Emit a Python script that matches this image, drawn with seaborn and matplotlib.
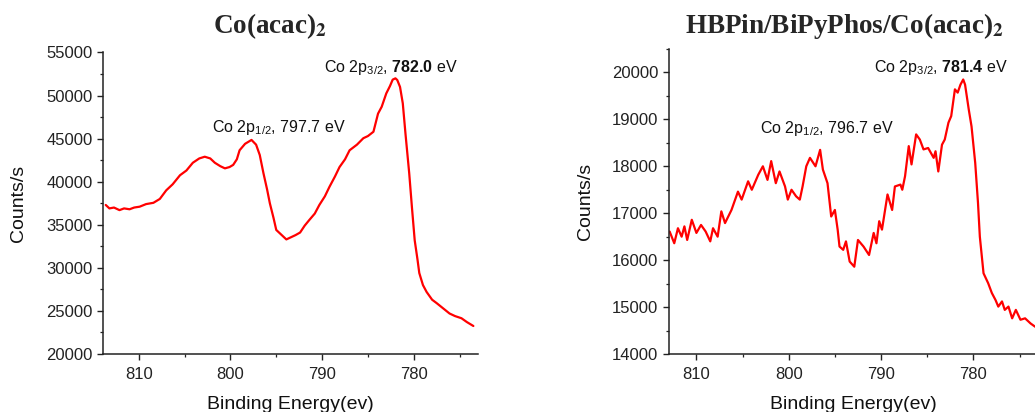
import numpy as np
import pandas as pd
import matplotlib
matplotlib.use('Agg')
import matplotlib.pyplot as plt
from matplotlib.ticker import MultipleLocator
import seaborn as sns

# Co(acac)2 - Co 2p spectrum
be_left = [813.6, 813.2, 812.7, 812.1, 811.6, 811.0, 810.5, 809.9, 809.2, 808.4,
           807.7, 807.0, 806.3, 805.5, 804.8, 804.1, 803.4, 802.8, 802.2, 801.7,
           801.1, 800.6, 800.1, 799.7, 799.3, 799.0, 798.4, 797.7, 797.2, 796.8,
           796.4, 796.0, 795.7, 795.3, 795.0, 794.4, 793.9, 793.3, 792.9, 792.4,
           791.9, 791.4, 790.8, 790.3, 789.7, 789.2, 788.6, 788.1, 787.5, 787.0,
           786.2, 785.5, 785.0, 784.4, 783.9, 783.5, 783.0, 782.6, 782.3, 782.0,
           781.8, 781.5, 781.2, 780.9, 780.5, 780.2, 779.9, 779.6, 779.4, 779.0,
           778.6, 778.0, 777.5, 776.8, 776.1, 775.5, 774.8, 774.2, 773.5]
cps_left = [37300, 36900, 37000, 36700, 36900, 36800, 37000, 37100, 37400, 37550,
            38000, 39000, 39700, 40750, 41300, 42200, 42700, 42900, 42700, 42200,
            41800, 41550, 41700, 41950, 42600, 43650, 44400, 44850, 44300, 43100,
            41000, 39100, 37500, 35800, 34400, 33800, 33300, 33600, 33800, 34100,
            34900, 35550, 36300, 37300, 38300, 39400, 40600, 41700, 42600, 43650,
            44300, 45050, 45300, 45800, 47900, 48700, 50250, 51100, 51850, 52000,
            51800, 51000, 49100, 45500, 41000, 37000, 33200, 31000, 29400, 28000,
            27200, 26300, 25900, 25300, 24700, 24400, 24150, 23700, 23250]

# HBPin/BiPyPhos/Co(acac)2 - Co 2p spectrum
be_right = [812.9, 812.4, 812.0, 811.6, 811.3, 811.0, 810.5, 810.0, 809.5, 809.0,
            808.5, 808.2, 807.7, 807.3, 806.9, 806.2, 805.5, 805.1, 804.4, 804.0,
            803.3, 802.8, 802.3, 801.9, 801.4, 801.0, 800.4, 800.1, 799.7, 799.2,
            798.8, 798.5, 798.1, 797.7, 797.1, 796.6, 796.3, 795.8, 795.4, 795.0,
            794.7, 794.5, 794.1, 793.8, 793.4, 792.9, 792.5, 791.9, 791.3, 790.8,
            790.5, 790.2, 789.9, 789.3, 788.8, 788.5, 787.9, 787.7, 787.4, 787.0,
            786.7, 786.2, 785.8, 785.4, 784.9, 784.3, 784.1, 783.8, 783.4, 783.1,
            782.7, 782.4, 782.0, 781.7, 781.4, 781.1, 780.9, 780.5, 780.2, 779.8,
            779.5, 779.3, 778.9, 778.4, 778.0, 777.6, 777.3, 776.9, 776.6, 776.2,
            775.8, 775.4, 774.9, 774.4, 773.8, 773.3]
cps_right = [16610, 16360, 16680, 16500, 16720, 16430, 16860, 16580, 16750, 16610,
             16400, 16680, 16500, 17040, 16790, 17070, 17460, 17290, 17680, 17500,
             17820, 18000, 17710, 18110, 17640, 17890, 17570, 17290, 17500, 17360,
             17290, 17570, 18000, 18180, 18000, 18350, 17930, 17640, 16930, 17070,
             16650, 16290, 16220, 16400, 15970, 15860, 16430, 16290, 16110, 16580,
             16360, 16830, 16650, 17400, 17070, 17570, 17610, 17500, 17790, 18430,
             18040, 18680, 18570, 18360, 18390, 18180, 18320, 17890, 18460, 18570,
             18930, 19070, 19640, 19570, 19740, 19850, 19740, 19210, 18850, 18070,
             17220, 16500, 15720, 15510, 15300, 15150, 15010, 15120, 14940, 15010,
             14760, 14940, 14730, 14760, 14650, 14580]

titles = ['Co(acac)$\\mathbf{_2}$', 'HBPin/BiPyPhos/Co(acac)$\\mathbf{_2}$']
annot_left = ['Co 2p$_{1/2}$, 797.7 eV', 'Co 2p$_{3/2}$, $\\mathbf{782.0}$ eV']
annot_right = ['Co 2p$_{1/2}$, 796.7 eV', 'Co 2p$_{3/2}$, $\\mathbf{781.4}$ eV']

sns.set_style('ticks')
plt.rcParams['font.family'] = ['Liberation Sans', 'DejaVu Sans']
plt.rcParams['mathtext.fontset'] = 'custom'
plt.rcParams['mathtext.rm'] = 'Liberation Sans'
plt.rcParams['mathtext.it'] = 'Liberation Sans:italic'
plt.rcParams['mathtext.bf'] = 'Liberation Sans:bold'
plt.rcParams['axes.edgecolor'] = '#222222'
plt.rcParams['axes.linewidth'] = 1.1

fig = plt.figure(figsize=(10.35, 4.12), dpi=100)
ax1 = fig.add_axes([0.0995, 0.1408, 0.3623, 0.7318])
ax2 = fig.add_axes([0.6461, 0.1408, 0.3568, 0.7403])

df1 = pd.DataFrame({'be': be_left, 'cps': cps_left})
df2 = pd.DataFrame({'be': be_right, 'cps': cps_right})

sns.lineplot(data=df1, x='be', y='cps', ax=ax1, color='#ff0000', lw=1.6,
             sort=False, estimator=None)
sns.lineplot(data=df2, x='be', y='cps', ax=ax2, color='#ff0000', lw=1.6,
             sort=False, estimator=None)

ax1.set_xlim(813.9, 773.0)
ax1.set_ylim(20000, 55000)
ax1.yaxis.set_major_locator(MultipleLocator(5000))
ax1.yaxis.set_minor_locator(MultipleLocator(2500))

ax2.set_xlim(813.0, 773.0)
ax2.set_ylim(14000, 20500)
ax2.yaxis.set_major_locator(MultipleLocator(1000))
ax2.yaxis.set_minor_locator(MultipleLocator(500))

for ax in (ax1, ax2):
    sns.despine(ax=ax)
    ax.xaxis.set_major_locator(MultipleLocator(10))
    ax.xaxis.set_minor_locator(MultipleLocator(5))
    ax.tick_params(which='major', length=4.5, width=1.0, labelsize=12,
                   colors='#222222', direction='out')
    ax.tick_params(which='minor', length=2.3, width=0.9, colors='#222222',
                   direction='out')
    ax.tick_params(axis='y', pad=3)
    ax.tick_params(axis='x', pad=5)
    ax.set_xlabel('Binding Energy(ev)', fontsize=14, color='#111111')
    ax.set_ylabel('Counts/s', fontsize=14, color='#111111')
    ax.yaxis.set_label_coords(-0.203, 0.5)
    ax.xaxis.set_label_coords(0.5, -0.138)

# peak labels
ax1.text(802.0, 45770, annot_left[0], fontsize=11.5, ha='left',
         va='baseline', color='#111111')
ax1.text(789.8, 52700, annot_left[1], fontsize=11.5, ha='left',
         va='baseline', color='#111111')
ax2.text(803.1, 18700, annot_right[0], fontsize=11.5, ha='left',
         va='baseline', color='#111111')
ax2.text(790.8, 20020, annot_right[1], fontsize=11.5, ha='left',
         va='baseline', color='#111111')

fig.text(213 / 1035, 1 - 33 / 412, titles[0], fontsize=19.5, fontweight='bold',
         family='Liberation Serif', math_fontfamily='stix', va='baseline')
fig.text(685 / 1035, 1 - 33 / 412, titles[1], fontsize=19.5, fontweight='bold',
         family='Liberation Serif', math_fontfamily='stix', va='baseline')

fig.savefig('out.png', dpi=100)
